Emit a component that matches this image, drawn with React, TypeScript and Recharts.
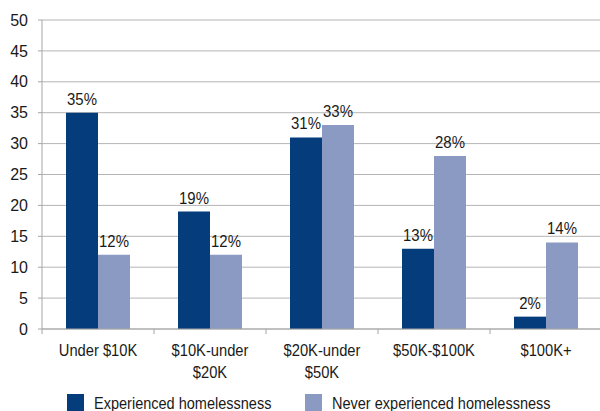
import React from 'react';
import { BarChart, Bar, XAxis, YAxis, CartesianGrid, LabelList } from 'recharts';

// Household income by homelessness experience (percent)
const categories = ['Under $10K', '$10K-under\n$20K', '$20K-under\n$50K', '$50K-$100K', '$100K+'];
const experienced = [35, 19, 31, 13, 2];
const neverExperienced = [12, 12, 33, 28, 14];
const yTicks = [0, 5, 10, 15, 20, 25, 30, 35, 40, 45, 50];

const seriesNames = ['Experienced homelessness', 'Never experienced homelessness'];
const DARK = '#053c7c';
const LIGHT = '#8a9ac3';
const AXIS = '#a6a6a6';
const TEXT = '#1a1a1a';
const FONT = '"Liberation Sans", Arial, sans-serif';

const data = categories.map((name, i) => ({
  name,
  experienced: experienced[i],
  never: neverExperienced[i],
}));

// Horizontally squeezed text to mimic the condensed face of the original
const Condensed = ({ x, y, sx, size, anchor = 'middle', children }: any) => (
  <text
    transform={`translate(${x},${y}) scale(${sx},1)`}
    textAnchor={anchor}
    fill={TEXT}
    fontSize={size}
    fontFamily={FONT}
  >
    {children}
  </text>
);

// Category label, plus a small tick mark on the left edge of each band
const CategoryTick = (props: any) => {
  const { x, y, payload, width, visibleTicksCount } = props;
  const band = width && visibleTicksCount ? width / visibleTicksCount : 112;
  const lines = String(payload.value).split('\n');
  return (
    <g>
      <line x1={x - band / 2} y1={y} x2={x - band / 2} y2={y + 5} stroke={AXIS} />
      {lines.map((line, i) => (
        <Condensed key={i} x={x} y={y + 27 + i * 22} sx={0.92} size={16}>
          {line}
        </Condensed>
      ))}
    </g>
  );
};

const ValueLabel = (props: any) => {
  const { x, y, width, value } = props;
  return (
    <Condensed x={Number(x) + Number(width) / 2} y={Number(y) - 8} sx={0.88} size={17}>
      {`${value}%`}
    </Condensed>
  );
};

export default function App() {
  return (
    <div style={{ position: 'absolute', left: 0, top: 0, width: 600, height: 411, overflow: 'hidden', background: '#fff' }}>
      <BarChart
        width={602}
        height={411}
        data={data}
        margin={{ top: 20, right: 0, left: 0, bottom: 32 }}
        barGap={0}
        barCategoryGap={24}
      >
        <CartesianGrid vertical={false} stroke="#b5b5b5" />
        <XAxis
          dataKey="name"
          interval={0}
          height={50}
          tickSize={0}
          tickMargin={0}
          tickLine={false}
          axisLine={{ stroke: AXIS }}
          tick={<CategoryTick />}
        />
        <YAxis
          width={42}
          domain={[0, 50]}
          ticks={yTicks}
          interval={0}
          tickSize={4}
          tickMargin={10}
          axisLine={{ stroke: AXIS }}
          tickLine={{ stroke: AXIS }}
          tick={{ fill: TEXT, fontSize: 16, fontFamily: FONT }}
        />
        <Bar dataKey="experienced" fill={DARK} isAnimationActive={false}>
          <LabelList dataKey="experienced" content={<ValueLabel />} />
        </Bar>
        <Bar dataKey="never" fill={LIGHT} isAnimationActive={false}>
          <LabelList dataKey="never" content={<ValueLabel />} />
        </Bar>
      </BarChart>

      {/* Legend, cut by the bottom edge as in the original */}
      <svg width={600} height={20} style={{ position: 'absolute', left: 0, top: 394 }}>
        {seriesNames.map((name, i) => {
          const left = i === 0 ? 67 : 305;
          return (
            <g key={name}>
              <rect x={left} y={0} width={17} height={17} fill={i === 0 ? DARK : LIGHT} />
              <Condensed x={left + 27} y={15} sx={0.88} size={16.5} anchor="start">
                {name}
              </Condensed>
            </g>
          );
        })}
      </svg>
    </div>
  );
}
